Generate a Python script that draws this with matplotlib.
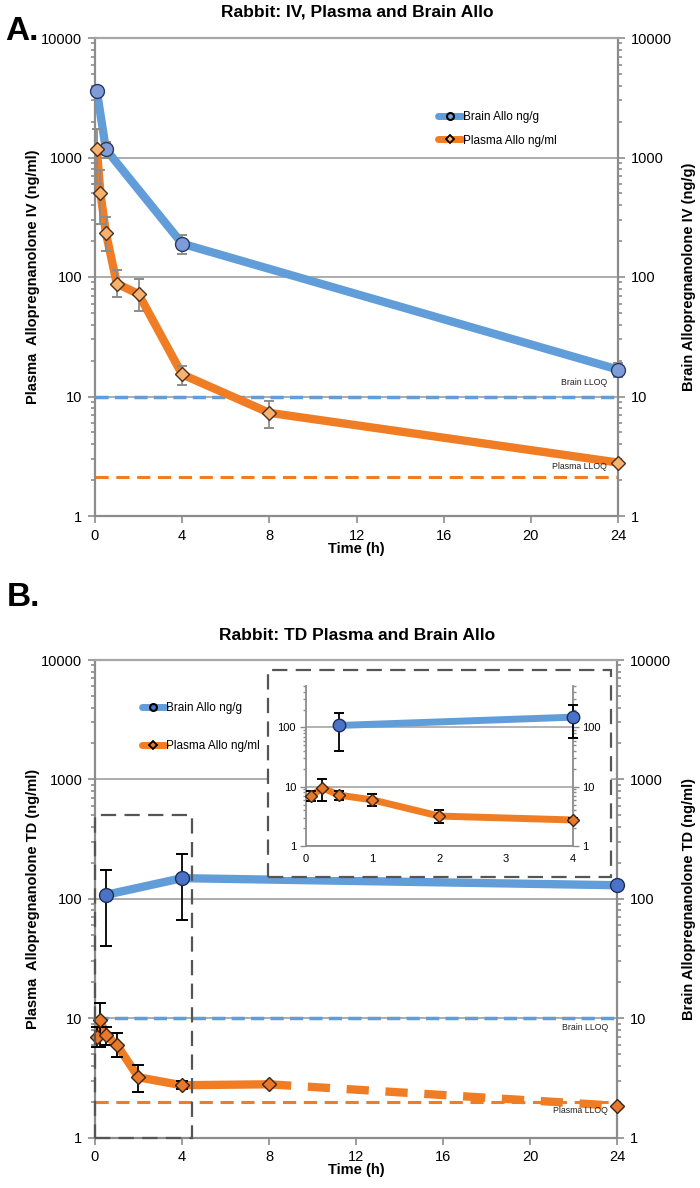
import numpy as np
import matplotlib
matplotlib.use("Agg")
import matplotlib.pyplot as plt
from matplotlib.lines import Line2D
from matplotlib.patches import Rectangle

plt.rcParams['font.family'] = ['Liberation Sans', 'DejaVu Sans']
plt.rcParams['lines.scale_dashes'] = False

# ---- panel A: IV dosing ----
IV_BRAIN_T = [0.083, 0.5, 4, 24]
IV_BRAIN = [3600, 1170, 190, 16.8]
IV_BRAIN_ERR = [0, 170, 35, 2.2]
IV_PLASMA_T = [0.083, 0.25, 0.5, 1, 2, 4, 8, 24]
IV_PLASMA = [1170, 500, 235, 88, 72, 15.3, 7.3, 2.8]
IV_PLASMA_LO = [570, 220, 70, 20, 20, 2.8, 1.9, 0]
IV_PLASMA_HI = [570, 290, 80, 27, 25, 2.8, 1.9, 0]
IV_PLASMA_LLOQ = 2.1

# ---- panel B: TD dosing ----
TD_BRAIN_T = [0.5, 4, 24]
TD_BRAIN = [108, 149, 130]
TD_BRAIN_LO = [68, 82, 0]
TD_BRAIN_HI = [67, 89, 0]
TD_PLASMA_T = [0.083, 0.25, 0.5, 1, 2, 4, 8, 24]
TD_PLASMA = [7.0, 9.6, 7.2, 6.0, 3.2, 2.75, 2.8, 1.85]
TD_PLASMA_LO = [1.2, 3.8, 1.2, 1.3, 0.8, 0.2, 0, 0]
TD_PLASMA_HI = [1.5, 3.8, 1.3, 1.5, 0.9, 0.25, 0, 0]
TD_PLASMA_LLOQ = 2.0

BRAIN_LLOQ = 10
YTICKS = [1, 10, 100, 1000, 10000]
XTICKS = [0, 4, 8, 12, 16, 20, 24]
INSET_END = 4

BLUE = '#619dd8'
ORANGE = '#f07d24'
GRID = '#a6a6a6'
SPINE = '#8c8c8c'
BOXC = '#555555'


def style_axes(ax):
    ax.set_yscale('log')
    ax.set_ylim(1, 10000)
    ax.set_xlim(0, 24)
    ax.set_xticks(XTICKS)
    ax.set_yticks(YTICKS, [str(v) for v in YTICKS])
    ax.yaxis.set_minor_formatter(matplotlib.ticker.NullFormatter())
    ax.yaxis.grid(True, which='major', color=GRID, lw=1.3, zorder=0)
    ax.set_axisbelow(True)
    for s in ax.spines.values():
        s.set_color(SPINE)
        s.set_linewidth(1.6)
    ax.spines['top'].set_color(GRID)
    ax.tick_params(which='both', direction='out', color=SPINE, labelsize=10.5,
                   right=True, labelright=True, width=1.2)
    ax.tick_params(which='major', length=5, pad=4)
    ax.tick_params(which='minor', length=3)


def legend(ax, anchor, fc_b, fc_p, spacing):
    h = [Line2D([], [], color=BLUE, lw=5, marker='o', ms=5, mfc=fc_b, mec='black', mew=1.5,
                solid_capstyle='round'),
         Line2D([], [], color=ORANGE, lw=5, marker='D', ms=4, mfc=fc_p, mec='black', mew=1.3,
                solid_capstyle='round')]
    ax.legend(h, ['Brain Allo ng/g', 'Plasma Allo ng/ml'], loc='upper left',
              bbox_to_anchor=anchor, frameon=False, fontsize=8.5, handlelength=2.0,
              handletextpad=0.1, labelspacing=spacing, borderpad=0)


def series(ax, t, y, lo, hi, fc, ec, marker, ms, cap, ecol):
    ax.errorbar(t, y, yerr=[lo, hi], fmt='none', ecolor=ecol, elinewidth=1.3,
                capsize=cap, capthick=1.4, zorder=3, clip_on=False)
    ax.plot(t, y, ls='none', marker=marker, ms=ms, mfc=fc, mec=ec, mew=1.0, zorder=4,
            clip_on=False)


fig = plt.figure(figsize=(7, 11.88), dpi=100)
H = 1188.0

# ================= A =================
axA = fig.add_axes([95 / 700, 1 - 516 / H, 523 / 700, 478 / H])
style_axes(axA)
axA.axhline(BRAIN_LLOQ, color=BLUE, lw=2.5, ls=(0, (9.5, 4.5)), zorder=1.5)
axA.axhline(IV_PLASMA_LLOQ, color=ORANGE, lw=2.2, ls=(0, (9.5, 5.5)), zorder=1.5)
axA.plot(IV_BRAIN_T, IV_BRAIN, color=BLUE, lw=6, zorder=2, solid_joinstyle='round')
axA.plot(IV_PLASMA_T, IV_PLASMA, color=ORANGE, lw=6, zorder=2, solid_joinstyle='round')
series(axA, IV_BRAIN_T, IV_BRAIN, IV_BRAIN_ERR, IV_BRAIN_ERR, '#7f9cd8', '#263a66',
       'o', 10, 3.5, '#8c8c8c')
series(axA, IV_PLASMA_T, IV_PLASMA, IV_PLASMA_LO, IV_PLASMA_HI, '#f7b26e', '#4a3020',
       'D', 7, 3.5, '#8c8c8c')
axA.text(23.5, 13.2, 'Brain LLOQ', ha='right', va='center', fontsize=6.3, color='#222222')
axA.text(23.5, 2.6, 'Plasma LLOQ', ha='right', va='center', fontsize=6.3, color='#222222')
legend(axA, (0.645, 0.86), '#7f9cd8', '#f7b26e', 1.0)

fig.text(0.51, 1 - 12 / H, 'Rabbit: IV, Plasma and Brain Allo', ha='center', va='center',
         fontsize=12.5, fontweight='bold')
fig.text(0.008, 1 - 31 / H, 'A.', ha='left', va='center', fontsize=24, fontweight='bold')
fig.text(33 / 700, 1 - 277 / H, 'Plasma  Allopregnanolone IV (ng/ml)', rotation=90,
         ha='center', va='center', fontsize=10.5, fontweight='bold')
fig.text(689 / 700, 1 - 277 / H, 'Brain Allopregnanolone IV (ng/g)', rotation=90,
         ha='center', va='center', fontsize=10.5, fontweight='bold')
fig.text(356 / 700, 1 - 549 / H, 'Time (h)', ha='center', va='center', fontsize=10.5,
         fontweight='bold')

# ================= B =================
axB = fig.add_axes([95 / 700, 1 - 1137.7 / H, 522 / 700, 477.7 / H])
style_axes(axB)
axB.axhline(BRAIN_LLOQ, color=BLUE, lw=2.5, ls=(0, (9.5, 4.5)), zorder=1.5)
axB.axhline(TD_PLASMA_LLOQ, color=ORANGE, lw=2.2, ls=(0, (9.5, 5.5)), zorder=1.5)
axB.plot(TD_BRAIN_T, TD_BRAIN, color=BLUE, lw=6, zorder=2, solid_joinstyle='round')
axB.plot(TD_PLASMA_T[:7], TD_PLASMA[:7], color=ORANGE, lw=6, zorder=2,
         solid_joinstyle='round')
axB.plot(TD_PLASMA_T[6:], TD_PLASMA[6:], color=ORANGE, lw=6, zorder=2,
         ls=(0, (16, 12)))
series(axB, TD_BRAIN_T, TD_BRAIN, TD_BRAIN_LO, TD_BRAIN_HI, '#4a72c6', '#1e2f55',
       'o', 10, 4, 'black')
series(axB, TD_PLASMA_T, TD_PLASMA, TD_PLASMA_LO, TD_PLASMA_HI, '#e8782c', '#3a2414',
       'D', 7, 4, 'black')
axB.text(23.6, 8.4, 'Brain LLOQ', ha='right', va='center', fontsize=6.3, color='#222222')
axB.text(23.6, 1.69, 'Plasma LLOQ', ha='right', va='center', fontsize=6.3, color='#222222')
legend(axB, (0.078, 0.925), '#4a72c6', '#e8782c', 2.2)

# dashed zoom box over 0-4.5 h
axB.add_patch(Rectangle((0, 1), 4.45, 499, fill=False, ec=BOXC, lw=1.6,
                        ls=(0, (11, 6)), zorder=5, clip_on=False))
# dashed frame holding the inset
fig.patches.append(Rectangle((268.3 / 700, 1 - 876.7 / H), (611 - 268.3) / 700,
                             (876.7 - 670) / H, transform=fig.transFigure, fc='white',
                             ec=BOXC, lw=1.6, ls=(0, (11, 6)), zorder=3))

fig.text(0.51, 1 - 635 / H, 'Rabbit: TD Plasma and Brain Allo', ha='center', va='center',
         fontsize=12.5, fontweight='bold')
fig.text(0.01, 1 - 597 / H, 'B.', ha='left', va='center', fontsize=24, fontweight='bold')
fig.text(33 / 700, 1 - 899 / H, 'Plasma  Allopregnanolone TD (ng/ml)', rotation=90,
         ha='center', va='center', fontsize=10.5, fontweight='bold')
fig.text(689 / 700, 1 - 899 / H, 'Brain Allopregnanolone TD (ng/ml)', rotation=90,
         ha='center', va='center', fontsize=10.5, fontweight='bold')
fig.text(356 / 700, 1 - 1170 / H, 'Time (h)', ha='center', va='center', fontsize=10.5,
         fontweight='bold')

# ---- inset: first 4 h ----
axI = fig.add_axes([305.7 / 700, 1 - 846 / H, 267 / 700, 160 / H], zorder=10)
axI.set_yscale('log')
axI.set_ylim(1, 500)
axI.set_xlim(0, INSET_END)
axI.set_xticks([0, 1, 2, 3, 4])
axI.set_yticks([1, 10, 100], ['1', '10', '100'])
axI.yaxis.set_minor_formatter(matplotlib.ticker.NullFormatter())
axI.yaxis.grid(True, which='major', color=GRID, lw=1.2)
axI.set_axisbelow(True)
axI.spines['top'].set_visible(False)
for s in ['left', 'right', 'bottom']:
    axI.spines[s].set_color(SPINE)
    axI.spines[s].set_linewidth(1.3)
axI.tick_params(which='both', direction='out', color=SPINE, labelsize=8, right=True,
                labelright=True, width=1)
axI.tick_params(which='major', length=4, pad=3)
axI.tick_params(which='minor', length=2.5)
axI.tick_params(axis='x', length=0, pad=6)
axI.plot(TD_BRAIN_T, TD_BRAIN, color=BLUE, lw=5, zorder=2)
axI.plot(TD_PLASMA_T, TD_PLASMA, color=ORANGE, lw=5, zorder=2)

bt, b, blo, bhi = (np.array(a) for a in (TD_BRAIN_T, TD_BRAIN, TD_BRAIN_LO, TD_BRAIN_HI))
pt, p, plo, phi = (np.array(a) for a in (TD_PLASMA_T, TD_PLASMA, TD_PLASMA_LO, TD_PLASMA_HI))
mb, mp = bt <= INSET_END, pt <= INSET_END
series(axI, bt[mb], b[mb], blo[mb], bhi[mb], '#4a72c6', '#1e2f55', 'o', 9, 3.5, 'black')
series(axI, pt[mp], p[mp], plo[mp], phi[mp], '#e8782c', '#3a2414', 'D', 6.5, 3.5, 'black')

fig.savefig('out.png', dpi=100)
